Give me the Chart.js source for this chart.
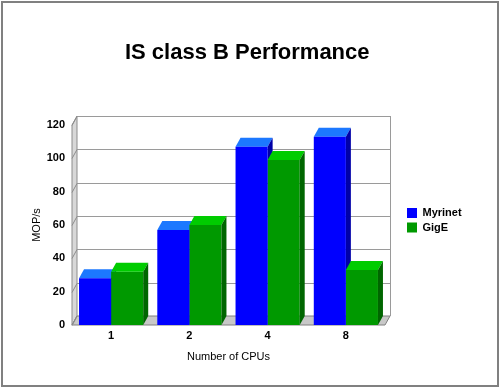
<!DOCTYPE html>
<html><head><meta charset="utf-8">
<script src="https://cdn.jsdelivr.net/npm/chart.js@4/dist/chart.umd.min.js"></script>
<style>html,body{margin:0;padding:0;background:#fff}canvas{display:block}</style>
</head><body>
<canvas id="c" width="500" height="389"></canvas>
<script>
// ---- data ----
const categories = ['1', '2', '4', '8'];
const myrinet = [28, 57, 107, 113];
const gigE = [32, 60, 99, 33];
const yTicks = [0, 20, 40, 60, 80, 100, 120];
const seriesNames = ['Myrinet', 'GigE'];
const chartTitle = 'IS class B Performance';
const xTitle = 'Number of CPUs';
const yTitle = 'MOP/s';

// ---- style ----
const DX = 5, DY = 9;
const FONT = "'Liberation Sans', Arial, Helvetica, sans-serif";
const faces = [
  {front: '#0000ff', top: '#1c78ff', side: '#0000a8'},
  {front: '#009900', top: '#00cc00', side: '#006600'}
];

function poly(ctx, pts, fill, stroke) {
  ctx.beginPath();
  ctx.moveTo(pts[0][0], pts[0][1]);
  for (let i = 1; i < pts.length; i++) ctx.lineTo(pts[i][0], pts[i][1]);
  ctx.closePath();
  if (fill) { ctx.fillStyle = fill; ctx.fill(); }
  if (stroke) { ctx.strokeStyle = stroke; ctx.lineWidth = 1; ctx.stroke(); }
}
function line(ctx, x1, y1, x2, y2, color) {
  ctx.beginPath(); ctx.moveTo(x1, y1); ctx.lineTo(x2, y2);
  ctx.strokeStyle = color; ctx.lineWidth = 1; ctx.stroke();
}
function drawFaces(ctx, el, c) {
  const p = el.getProps(['x', 'y', 'base', 'width'], true);
  const l = p.x - p.width / 2, r = p.x + p.width / 2, t = p.y, b = p.base;
  poly(ctx, [[l, t], [r, t], [r + DX, t - DY], [l + DX, t - DY]], c.top);
  poly(ctx, [[r, t], [r + DX, t - DY], [r + DX, b - DY], [r, b]], c.side);
}

const box3d = {
  id: 'box3d',
  beforeDraw(chart) {
    const ctx = chart.ctx;
    ctx.save();
    ctx.fillStyle = '#fff';
    ctx.fillRect(0, 0, chart.width, chart.height);
    ctx.strokeStyle = '#808080';
    ctx.lineWidth = 2;
    ctx.strokeRect(2, 2, 496, 384);
    ctx.restore();
  },
  beforeDatasetsDraw(chart) {
    const {ctx, chartArea: a, scales: {y}} = chart;
    ctx.save();
    const L = a.left, R = a.right, T = a.top, B = a.bottom;
    // back wall
    poly(ctx, [[L + DX, T - DY], [R + DX, T - DY], [R + DX, B - DY], [L + DX, B - DY]], '#ffffff');
    // left wall
    poly(ctx, [[L, B], [L, T], [L + DX, T - DY], [L + DX, B - DY]], '#d8d8d8', '#8c8c8c');
    // floor
    poly(ctx, [[L, B], [R, B], [R + DX, B - DY], [L + DX, B - DY]], '#c8c8c8', '#808080');
    // gridlines on back wall + connectors on left wall
    yTicks.forEach(v => {
      const py = Math.round(y.getPixelForValue(v)) + 0.5;
      if (v > 0) line(ctx, L + DX, py - DY, R + DX, py - DY, '#9a9a9a');
      line(ctx, L, py, L + DX, py - DY, '#8c8c8c');
    });
    // right edge of back wall
    line(ctx, R + DX + 0.5, T - DY, R + DX + 0.5, B - DY, '#9a9a9a');
    // first series: top & side faces (behind the fronts)
    chart.getDatasetMeta(0).data.forEach(el => drawFaces(ctx, el, faces[0]));
    ctx.restore();
  },
  afterDatasetsDraw(chart) {
    const ctx = chart.ctx;
    ctx.save();
    chart.getDatasetMeta(1).data.forEach(el => drawFaces(ctx, el, faces[1]));
    ctx.restore();
  }
};

Chart.defaults.font.family = FONT;
Chart.defaults.color = '#000';

new Chart(document.getElementById('c'), {
  type: 'bar',
  data: {
    labels: categories,
    datasets: [
      {label: seriesNames[0], data: myrinet, backgroundColor: faces[0].front, borderWidth: 0},
      {label: seriesNames[1], data: gigE, backgroundColor: faces[1].front, borderWidth: 0}
    ]
  },
  options: {
    responsive: false,
    animation: false,
    devicePixelRatio: 1,
    layout: {padding: {left: 26, right: 31.5, top: 0, bottom: 22}},
    datasets: {bar: {categoryPercentage: 0.82, barPercentage: 1.0}},
    scales: {
      x: {
        grid: {display: false, drawTicks: false, tickLength: 0},
        border: {display: false},
        ticks: {padding: 4.4, font: {size: 11, weight: 'bold'}, color: '#000'},
        title: {display: true, text: xTitle, font: {size: 11}, color: '#000', padding: {top: 4, bottom: 3.4}},
        afterFit(s) { s.height = 42; }
      },
      y: {
        min: 0, max: 120,
        afterBuildTicks(s) { s.ticks = yTicks.map(v => ({value: v})); },
        grid: {display: false, drawTicks: false, tickLength: 0},
        border: {display: false},
        ticks: {padding: 7, font: {size: 11, weight: 'bold'}, color: '#000'},
        title: {display: true, text: yTitle, font: {size: 11}, color: '#000', padding: {top: 4.4, bottom: 4}},
        afterFit(s) { s.width = 46; }
      },
      y2: {
        position: 'right', display: true,
        grid: {display: false, drawTicks: false, tickLength: 0},
        border: {display: false},
        ticks: {display: false},
        afterFit(s) { s.width = 18.5; }
      }
    },
    plugins: {
      title: {
        display: true, text: chartTitle, color: '#000',
        font: {size: 22, weight: 'bold'},
        padding: {top: 39.8, bottom: 58.8}
      },
      legend: {
        position: 'right', align: 'start', fullSize: false, maxWidth: 65,
        title: {display: true, text: '', padding: {top: 78, bottom: 0}, font: {size: 1, lineHeight: 1}},
        labels: {boxWidth: 10, boxHeight: 10, padding: 3.5, color: '#000', font: {size: 11, weight: 'bold'}}
      },
      tooltip: {enabled: false}
    }
  },
  plugins: [box3d]
});
</script>
</body></html>
